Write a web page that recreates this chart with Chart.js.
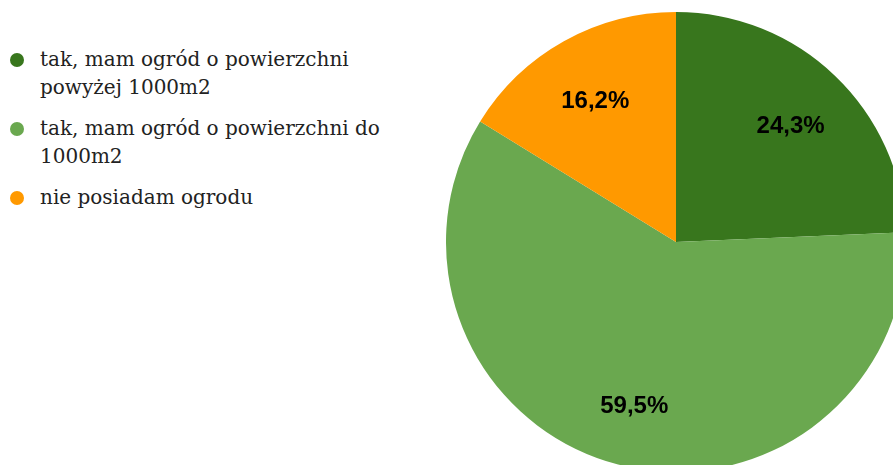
<!DOCTYPE html>
<html>
<head>
<meta charset="utf-8">
<script src="https://cdn.jsdelivr.net/npm/chart.js@4"></script>
<style>
html,body{margin:0;padding:0;background:#fff;}
body{width:893px;height:465px;overflow:hidden;position:relative;}
#pieBox{position:absolute;left:446px;top:12px;width:460px;height:460px;}
#legenda{position:absolute;left:0;top:46px;width:395px;font-family:"DejaVu Serif",serif;font-size:20px;color:#222;}
.item{position:relative;padding-left:40px;line-height:27.5px;margin-bottom:14px;}
.dot{position:absolute;left:10px;top:7px;width:14px;height:14px;border-radius:50%;}
</style>
</head>
<body>
<div id="legenda"></div>
<div id="pieBox"><canvas id="grafico" width="460" height="460"></canvas></div>
<script>
let kategorie=["tak, mam ogród o powierzchni powyżej 1000m2","tak, mam ogród o powierzchni do 1000m2","nie posiadam ogrodu"];
let odpowiedzi=[9,22,6];
let kolory=["#38761d","#6aa84f","#ff9900"];

let suma=odpowiedzi.reduce((a,b)=>a+b,0);

// etykiety z procentami na wycinkach
const etykiety={
  id:"etykiety",
  afterDatasetsDraw(chart){
    const ctx=chart.ctx;
    const meta=chart.getDatasetMeta(0);
    ctx.save();
    ctx.font="bold 24px 'Liberation Sans', Arial, sans-serif";
    ctx.fillStyle="#000";
    ctx.textAlign="center";
    ctx.textBaseline="middle";
    meta.data.forEach(function(arc,i){
      let kat=(arc.startAngle+arc.endAngle)/2;
      let d=arc.outerRadius*0.72;
      let x=arc.x+Math.cos(kat)*d;
      let y=arc.y+Math.sin(kat)*d+4;
      let proc=(odpowiedzi[i]/suma*100).toFixed(1).replace(".",",")+"%";
      ctx.fillText(proc,x,y);
    });
    ctx.restore();
  }
};

const ctx=document.getElementById("grafico").getContext("2d");
const wykres=new Chart(ctx,{
  type:"pie",
  data:{
    labels:kategorie,
    datasets:[{
      data:odpowiedzi,
      backgroundColor:kolory,
      borderWidth:0
    }]
  },
  options:{
    responsive:false,
    animation:false,
    layout:{padding:0},
    plugins:{
      legend:{display:false},
      tooltip:{enabled:false}
    }
  },
  plugins:[etykiety]
});

// legenda w html, bo tekst sie zawija
let legenda=document.getElementById("legenda");
wykres.data.labels.forEach(function(lab,i){
  let el=document.createElement("div");
  el.className="item";
  el.innerHTML='<span class="dot" style="background:'+kolory[i]+'"></span>'+lab;
  legenda.appendChild(el);
});
</script>
</body>
</html>
